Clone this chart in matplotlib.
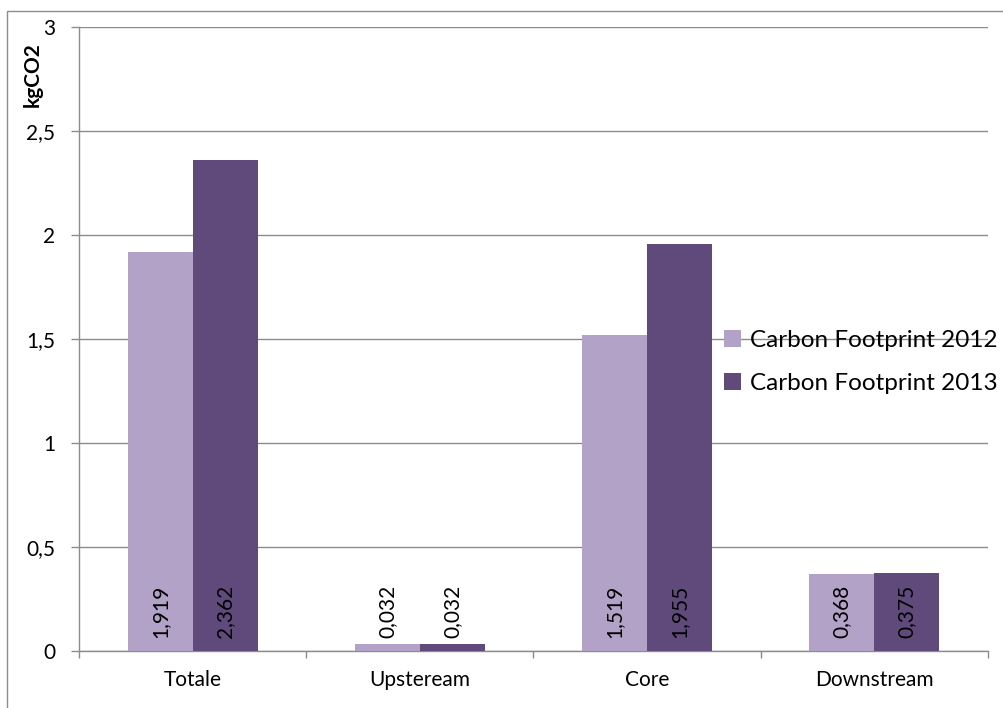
import matplotlib
matplotlib.use('Agg')
import matplotlib.pyplot as plt
import numpy as np

categories = ['Totale', 'Upsteream', 'Core', 'Downstream']
series_names = ['Carbon Footprint 2012', 'Carbon Footprint 2013']
values_2012 = [1.919, 0.032, 1.519, 0.368]
values_2013 = [2.362, 0.032, 1.955, 0.375]
yticks = [0, 0.5, 1, 1.5, 2, 2.5, 3]
colors = ['#B3A2C7', '#604A7B']

plt.rcParams['font.family'] = ['Lato', 'DejaVu Sans']
grey = '#8C8C8C'

fig = plt.figure(figsize=(10.04, 7.08), dpi=100)
ax = fig.add_axes([79/1004, 1-651/708, (988-79)/1004, (651-27)/708])

x = np.arange(len(categories))
w = 0.286
for i, (vals, name) in enumerate(zip([values_2012, values_2013], series_names)):
    pos = x + (i - 0.5) * w
    ax.bar(pos, vals, width=w, color=colors[i], label=name, zorder=3)
    for p, v in zip(pos, vals):
        ax.annotate(f'{v:.3f}'.replace('.', ','), (p, 0), xytext=(0, 9),
                    textcoords='offset points', rotation=90, ha='center',
                    va='bottom', fontsize=15, color='black', zorder=4)

ax.set_xlim(-0.5, len(categories) - 0.5)
ax.set_ylim(0, 3)
ax.set_yticks(yticks)
ax.set_yticklabels([f'{t:g}'.replace('.', ',') for t in yticks], fontsize=15)
ax.yaxis.grid(True, color=grey, lw=1, zorder=0)
ax.set_xticks(x)
ax.set_xticklabels(categories, fontsize=15)
ax.set_xticks(np.arange(len(categories) + 1) - 0.5, minor=True)
ax.tick_params(axis='x', which='major', length=0, pad=14)
ax.tick_params(axis='x', which='minor', length=5, color=grey, width=1)
ax.tick_params(axis='y', length=6, color=grey, width=1, pad=11)
for s in ['top', 'right']:
    ax.spines[s].set_visible(False)
for s in ['left', 'bottom']:
    ax.spines[s].set_color(grey)
    ax.spines[s].set_linewidth(1)

fig.text(33/1004, 1-75/708, 'kgCO2', rotation=90, ha='center', va='center',
         fontsize=15, fontweight='bold')

ax.legend(loc='upper left', bbox_to_anchor=(714/1004, 1-320/708),
          bbox_transform=fig.transFigure, frameon=False, fontsize=17.5,
          handlelength=0.7, handleheight=0.7, handletextpad=0.4,
          labelspacing=0.9, borderaxespad=0)

fig.patches.append(plt.Rectangle((7/1004, -0.1), 1.2, 1.1 - 11/708,
                                 transform=fig.transFigure, fill=False,
                                 edgecolor=grey, lw=1))

fig.savefig('out.png', dpi=100)
